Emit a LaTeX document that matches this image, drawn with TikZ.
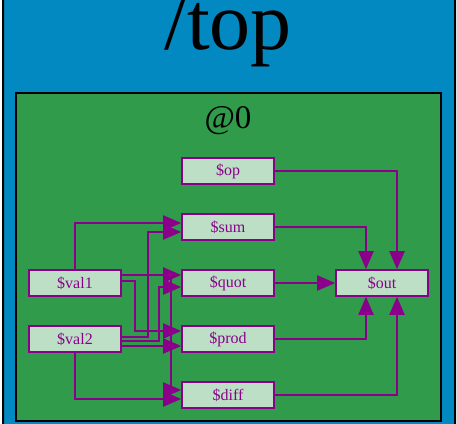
\documentclass[tikz,border=0pt]{standalone}
\usepackage{fontspec}
\setmainfont{Liberation Serif}
\usetikzlibrary{arrows.meta}
\definecolor{topblue}{HTML}{0289C1}
\definecolor{boxgreen}{HTML}{309B4A}
\definecolor{nodefill}{HTML}{BDDFC6}
\definecolor{edgepurple}{HTML}{8B008B}
\tikzset{
  opbox/.style={draw=edgepurple, line width=1.6pt, fill=nodefill, text=edgepurple,
    minimum width=92pt, minimum height=26pt, inner sep=0pt,
    font=\fontsize{16}{16}\selectfont},
  edge/.style={draw=edgepurple, line width=2pt,
    -{Triangle[length=18pt,width=15pt]}},
}
\begin{document}
\begin{tikzpicture}[x=1pt,y=-1pt]
\useasboundingbox (0,0) rectangle (457,423);
\begin{scope}
\clip (0,0) rectangle (457,423);
\draw[fill=topblue, line width=2pt, rounded corners=12pt] (3,-20) rectangle (455,440);
\end{scope}
\node[anchor=base, font=\fontsize{82}{82}\selectfont] (title) at (228,49) {/top};
\draw[fill=boxgreen, line width=2pt] (15.5,92.5) rectangle (441,421);
\node[anchor=base, font=\fontsize{33}{33}\selectfont] (lbl) at (228,128) {@0};

\node[opbox] (op)   at (228,171) {\$op};
\node[opbox] (sum)  at (228,227) {\$sum};
\node[opbox] (quot) at (228,283) {\$quot};
\node[opbox] (prod) at (228,339) {\$prod};
\node[opbox] (diff) at (228,395) {\$diff};
\node[opbox] (val1) at (75,283) {\$val1};
\node[opbox] (val2) at (75,339) {\$val2};
\node[opbox] (out)  at (382,283) {\$out};

% inputs
\draw[edge] (val1.north) |- ([yshift=4pt]sum.west);
\draw[edge] ([yshift=2pt]val2.east) -- ++(26,0) |- ([yshift=-5pt]sum.west);
\draw[edge] ([yshift=8pt]val1.east) -- ([yshift=8pt]quot.west);
\draw[edge] ([yshift=-2pt]val2.east) -- ++(37,0) |- ([yshift=-4pt]quot.west);
\draw[edge] ([yshift=2pt]val1.east) -- ++(13,0) |- ([yshift=8pt]prod.west);
\draw[edge] ([yshift=-7pt]val2.east) -- ([yshift=-7pt]prod.west);
\draw[edge] ([yshift=8pt]val1.east) -- ++(49,0) |- ([yshift=5pt]diff.west);
\draw[edge] (val2.south) |- ([yshift=-4pt]diff.west);

% outputs
\draw[edge] (op.east) -| ([xshift=15pt]out.north);
\draw[edge] (sum.east) -| ([xshift=-16pt]out.north);
\draw[edge] (quot.east) -- (out.west);
\draw[edge] (prod.east) -| ([xshift=-16pt]out.south);
\draw[edge] (diff.east) -| ([xshift=15pt]out.south);
\end{tikzpicture}
\end{document}
